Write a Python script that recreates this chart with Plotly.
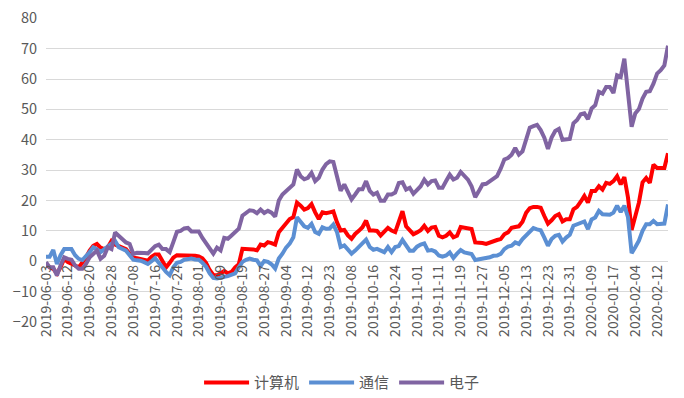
import pandas as pd
import plotly.graph_objects as go

# Trading-day categories (China A-share calendar)
start_date = "2019-06-03"
end_date = "2020-02-17"
holidays = ["2019-06-07", "2019-09-13", "2019-10-01", "2019-10-02", "2019-10-03",
            "2019-10-04", "2019-10-07", "2020-01-01", "2020-01-24", "2020-01-27",
            "2020-01-28", "2020-01-29", "2020-01-30", "2020-01-31"]
dates = [d.strftime("%Y-%m-%d") for d in pd.bdate_range(start_date, end_date)
         if d.strftime("%Y-%m-%d") not in holidays]

series_names = ["计算机", "通信", "电子"]

computer = [
    -1, -2, -2.5, -4, -2, 0.8, -0.3, -1, -1.4, -2,
    -0.5, 1.3, 3.5, 5.1, 5.7, 4.5, 4, 4.6, 6.7, 5.5,
    5, 4.5, 4, 2.5, 1.2, 1, 0.8, 0.5, 0.2, 1.5,
    2.2, 2.2, 0.2, -2, -0.5, 1.2, 2, 2, 2, 2,
    1.8, 1.8, 1.6, 1.0, -0.5, -2.9, -4.5, -4.6, -4, -3.2,
    -4, -3.5, -2, -1, 4.1, 4.1, 4.0, 3.9, 3.6, 5.5,
    5.2, 6.3, 6, 5.5, 9.6, 11, 12.5, 13.9, 14.5, 19.3,
    18.3, 17, 17.5, 18.8, 16.1, 13.9, 16.1, 15.8, 16.1, 16.4,
    12.8, 10.1, 10.3, 8.5, 7.4, 9, 10, 11.2, 13.4, 10.1,
    10.1, 10, 8.5, 9.6, 11, 10.1, 9.6, 13, 16.5, 11.5,
    10, 8.9, 9.5, 10.2, 11.7, 10, 11.1, 11.3, 8.4, 7.9,
    8.4, 9.5, 7.9, 8.4, 11.3, 11, 10.9, 10.6, 6.2, 6.2,
    6, 5.7, 6.2, 6.5, 7, 7.3, 8.9, 9.5, 11, 11.3,
    11.5, 13, 16, 17.5, 17.9, 17.9, 17.6, 14.9, 12.4, 13.5,
    14.9, 15.5, 13.1, 13.8, 13.8, 17.1, 17.9, 19.6, 21.5, 19.3,
    23.1, 23.1, 24.7, 23.6, 25.8, 25.5, 26.4, 28, 25.3, 27.7,
    21, 10.3, 14.4, 19.3, 26, 27.4, 25.8, 31.8, 30.7, 30.7,
    30.7, 35.6,
]

telecom = [
    1.5, 1.5, 3.7, -0.9, 2, 4, 4, 4, 2, 0.8,
    0.4, 1.5, 3, 4.6, 4, 3, 4, 5.1, 6, 6.7,
    4.6, 4, 3.5, 2, 0.5, 0.3, 0.2, -0.3, -0.9, 0,
    1, -0.5, -2.2, -3.5, -4.6, -2, -0.5, -0.2, 0.5, 0.8,
    0.9, 0.6, 0.5, -0.5, -1.8, -4, -5.5, -5.7, -5.3, -5.1,
    -4.9, -4.5, -4, -2, -0.2, 0.5, 0.9, 0.5, 0.3, -1.6,
    0.1, -0.2, -1, -2.4, 0.9, 2.5, 4.5, 5.8, 7.9, 14.5,
    13, 11.5, 11, 12.3, 9.6, 9, 11.2, 10.7, 10.8, 12.1,
    9.6, 4.7, 5.2, 3.6, 2.5, 3.5, 4.7, 5.8, 7.1, 4.7,
    3.8, 4.1, 3.5, 3, 4.7, 3, 4.7, 5, 7, 5,
    3.5, 3.5, 4.8, 5.5, 5.9, 3.5, 3.7, 3.2, 1.9, 1.5,
    1.9, 2.9, 1.1, 2.5, 3.7, 2.9, 2.6, 2.4, 0.4, 0.6,
    1.1, 1.3, 1.3, 1.8, 1.9, 2.4, 4, 4.8, 5.1, 6.2,
    5.7, 7.3, 8.5, 10, 10.9, 10.5, 10.2, 7.8, 5.1, 7.3,
    8.4, 8.7, 6.5, 7.8, 8.7, 11.7, 12.2, 12.7, 13.1, 10.6,
    13.8, 14.4, 16.6, 15.5, 15.5, 15.3, 16, 18.3, 16.2, 18.3,
    14.5, 2.7, 4.6, 6.8, 10, 12.2, 12.2, 13.3, 12.2, 12.4,
    12.4, 18.7,
]

electronics = [
    -0.3, -2, -2, -4.7, -1.4, 1.3, 0.8, 0.5, -1.4, -2.5,
    -2.5, -0.9, 1.3, 2.5, 3.5, 0.8, 1.8, 4.6, 4, 9.5,
    8.4, 7, 6.2, 5.7, 2.4, 2.8, 2.9, 2.7, 2.6, 4,
    5, 5.5, 4, 4, 3, 6.3, 9.7, 10, 10.8, 11,
    9.8, 9.8, 9.8, 7.7, 6, 4.7, 2.5, 4.5, 3.6, 7.7,
    7.4, 8.5, 9.5, 10.7, 15, 15.8, 16.8, 16.6, 15.8, 17,
    15.9, 16.6, 16, 14.7, 20, 22, 23.2, 24, 25.3, 30.2,
    28, 27, 27.5, 29.1, 26.4, 27.5, 30.2, 32, 32.9, 32.7,
    27.5, 23.2, 25.3, 22.6, 20.4, 22, 23.7, 23.7, 26.4, 23.2,
    22, 22.6, 19.9, 19.9, 22, 22, 22.6, 25.8, 26, 23.6,
    24.2, 22.2, 23.5, 24.7, 26.9, 25.3, 26.4, 26.6, 24.2, 24.2,
    26.4, 28.5, 26.9, 27.5, 29.4, 28, 26.9, 24.7, 21.1, 23.1,
    25.3, 25.5, 26.4, 27.2, 28, 30.5, 33.5, 34, 35.1, 37.3,
    35.1, 36.2, 40, 44, 44.5, 44.9, 43.2, 40.7, 37, 40.7,
    42.9, 43.6, 40, 40, 40.3, 45.4, 46.5, 48.4, 48.7, 46.8,
    50.3, 51.4, 55.8, 55.2, 57.4, 57.4, 55.4, 61.2, 60.7, 66.7,
    55, 44.3, 48.7, 50.1, 53.6, 55.8, 56, 58.5, 61.8, 62.9,
    64.5, 71,
]

colors = ["#FF0000", "#5B8FD3", "#8064A2"]
y_ticks = [-20, -10, 0, 10, 20, 30, 40, 50, 60, 70, 80]
x_tick_labels = dates[::6]

font_family = "Noto Sans CJK SC, Liberation Sans, sans-serif"
txt_color = "#595959"

fig = go.Figure()
for name, vals, col in zip(series_names, [computer, telecom, electronics], colors):
    fig.add_trace(go.Scatter(
        x=dates, y=vals, name=name, mode="lines",
        line=dict(color=col, width=4),
    ))

# page body has an 8px default margin, so the figure is sized/offset for it
fig.update_layout(
    width=676, height=390,
    margin=dict(l=38, r=16, t=10, b=76, autoexpand=False),
    paper_bgcolor="white", plot_bgcolor="white",
    font=dict(family=font_family, color=txt_color, size=14),
    showlegend=True,
    legend=dict(
        orientation="h", x=0.476, xanchor="center", y=-0.2, yanchor="middle",
        font=dict(size=15, color=txt_color), itemwidth=45,
        traceorder="normal",
    ),
    xaxis=dict(
        type="category",
        range=[0, len(dates) - 1],
        tickmode="array", tickvals=x_tick_labels, ticktext=x_tick_labels,
        tickangle=-90,
        tickfont=dict(size=14, color=txt_color),
        showgrid=False, zeroline=False, showline=False, ticks="",
        anchor="free", position=0.2, automargin=False,
        ticklabeloverflow="allow",
    ),
    yaxis=dict(
        range=[-20, 80.1], tickvals=y_ticks,
        showgrid=True, gridcolor="#D9D9D9", gridwidth=1,
        zeroline=False, showline=False, ticks="",
        ticklabelstandoff=8, ticklabeloverflow="allow",
        tickfont=dict(size=14.5, color=txt_color), automargin=False,
    ),
)

fig.write_html("out.html")
